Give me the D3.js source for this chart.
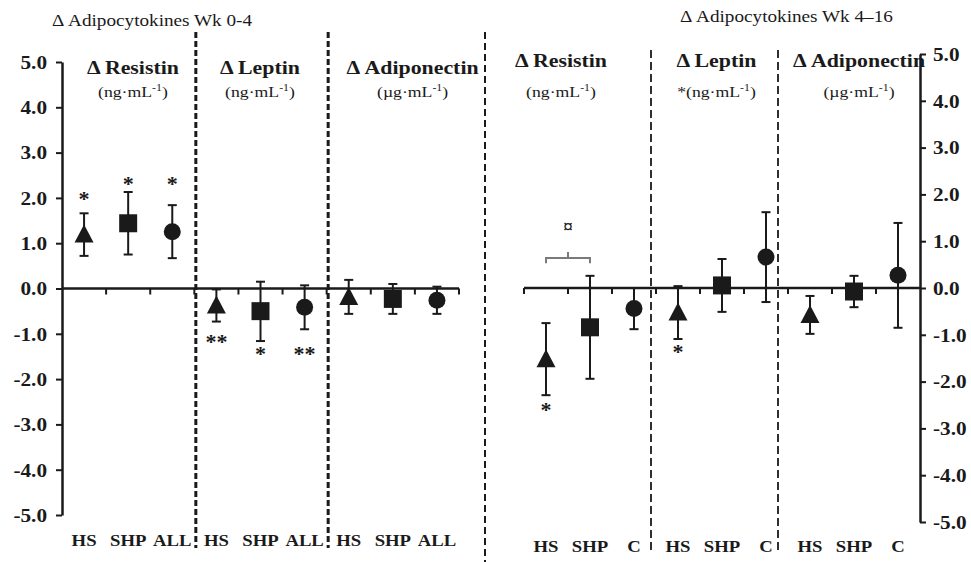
<!DOCTYPE html>
<html>
<head>
<meta charset="utf-8">
<script src="https://cdn.jsdelivr.net/npm/d3@7"></script>
<style>
  body { margin: 0; background: #fff; }
  svg { display: block; }
</style>
</head>
<body>
<svg id="chart" width="971" height="562"></svg>
<script>
// ---- data ----
const analytes = ["Resistin", "Leptin", "Adiponectin"];
const unitLabels = ["ng·mL", "ng·mL", "µg·mL"];
const unitNotesLate = ["", "*", ""];
const groupsEarly = ["HS", "SHP", "ALL"];
const groupsLate = ["HS", "SHP", "C"];
const yTicks = [5, 4, 3, 2, 1, 0, -1, -2, -3, -4, -5];

// Week 0-4 change: mean, lower and upper error limits per analyte x group
const meanEarly = [[1.19, 1.44, 1.255], [-0.375, -0.5, -0.415], [-0.185, -0.23, -0.26]];
const lowEarly  = [[0.72, 0.75, 0.67], [-0.73, -1.16, -0.9], [-0.56, -0.56, -0.56]];
const highEarly = [[1.66, 2.13, 1.84], [-0.02, 0.15, 0.07], [0.19, 0.1, 0.04]];

// Week 4-16 change
const meanLate = [[-1.52, -0.84, -0.44], [-0.525, 0.055, 0.66], [-0.575, -0.075, 0.27]];
const lowLate  = [[-2.29, -1.94, -0.88], [-1.09, -0.51, -0.3], [-0.98, -0.41, -0.85]];
const highLate = [[-0.75, 0.26, 0.0], [0.04, 0.62, 1.62], [-0.17, 0.26, 1.39]];

// significance markers: analyte index, group index, symbol, vertical position (data units)
const starsEarly = [
  [0, 0, "*", 2.03], [0, 1, "*", 2.34], [0, 2, "*", 2.34],
  [1, 0, "**", -1.13], [1, 1, "*", -1.41], [1, 2, "**", -1.41]
];
const starsLate = [[0, 0, "*", -2.56], [1, 0, "*", -1.32]];
// bracket between HS and SHP resistin (wk 4-16): level, end drop, centre rise, symbol level
const bracketLate = { analyte: 0, from: 0, to: 1, level: 0.64, end: 0.53, peak: 0.77, mark: "¤", markAt: 1.3 };

// ---- layout ----
const svg = d3.select("#chart");
const INK = "#1a1a1a";
const FONT = '"Liberation Serif", "Times New Roman", Times, serif';
const SX = 1.18; // horizontal text stretch
const headerShiftL = [4, -2, 6];
const headerShiftR = [-7, 2, 10];

function label(sel, x, y, str, o = {}) {
  const t = sel.append("text")
    .attr("transform", `translate(${x},${y}) scale(${o.sx ?? SX},1)`)
    .attr("text-anchor", o.anchor ?? "middle")
    .style("font-family", FONT)
    .style("font-size", (o.size ?? 18) + "px")
    .style("font-weight", o.weight ?? "bold")
    .style("fill", INK);
  if (str !== null) t.text(str);
  return t;
}

function unitLabel(sel, x, y, prefix, unit) {
  const t = label(sel, x, y, null, { size: 15, weight: "normal" });
  t.append("tspan").text(prefix + "(" + unit);
  t.append("tspan").attr("dy", -6).style("font-size", "10px").text("-1");
  t.append("tspan").attr("dy", 6).text(")");
}

const keys = analytes.flatMap(a => [0, 1, 2].map(g => a + "|" + g));

const xL = d3.scaleBand().domain(keys).range([62, 459]).paddingInner(0).paddingOuter(0);
const yL = d3.scaleLinear().domain([-5, 5]).range([515, 62]);
const xR = d3.scaleBand().domain(keys).range([524, 920]).paddingInner(0).paddingOuter(0);
const yR = d3.scaleLinear().domain([-5, 5]).range([522, 54]);

function markerPath(g) {
  if (g === 0) return "M0,-10L9.5,8L-9.5,8Z";
  if (g === 1) return "M-9,-9H9V9H-9Z";
  return d3.arc()({ innerRadius: 0, outerRadius: 8.5, startAngle: 0, endAngle: 2 * Math.PI });
}

function drawPanel(x, y, means, lows, highs, groups, opts) {
  const g = svg.append("g");
  const bw = x.bandwidth();
  const cx = (a, i) => x(analytes[a] + "|" + i) + bw / 2;

  // zero line with ticks at category boundaries
  const [x0, x1] = x.range();
  g.append("line").attr("x1", x0).attr("x2", x1).attr("y1", y(0)).attr("y2", y(0))
    .attr("stroke", INK).attr("stroke-width", 2.5);
  const bounds = keys.map(k => x(k)).concat([x1]).filter((d, i) => opts.tickAt(i));
  g.selectAll(".xt").data(bounds).join("line")
    .attr("x1", d => d).attr("x2", d => d)
    .attr("y1", y(0)).attr("y2", y(0) + 6)
    .attr("stroke", INK).attr("stroke-width", 2);

  // error bars and markers
  analytes.forEach((an, a) => {
    groups.forEach((gr, i) => {
      const px = cx(a, i);
      g.append("line").attr("x1", px).attr("x2", px)
        .attr("y1", y(lows[a][i])).attr("y2", y(highs[a][i]))
        .attr("stroke", INK).attr("stroke-width", 2);
      [lows[a][i], highs[a][i]].forEach(v => {
        g.append("line").attr("x1", px - 4.5).attr("x2", px + 4.5)
          .attr("y1", y(v)).attr("y2", y(v))
          .attr("stroke", INK).attr("stroke-width", 2);
      });
      g.append("path").attr("d", markerPath(i))
        .attr("transform", `translate(${px},${y(means[a][i])})`)
        .attr("fill", INK);
      // category label
      label(g, px, opts.catY, gr, { size: 17, sx: 1.1 });
    });
  });

  opts.stars.forEach(([a, i, s, v]) => {
    label(g, cx(a, i), y(v) + 9, s, { size: 21, sx: 1.05 });
  });
  return cx;
}

// y axes
const axL = svg.append("g").attr("transform", "translate(62,0)")
  .call(d3.axisLeft(yL).tickValues(yTicks).tickSize(6).tickSizeOuter(0).tickFormat(d => d.toFixed(1)));
const axR = svg.append("g").attr("transform", "translate(920,0)")
  .call(d3.axisRight(yR).tickValues(yTicks).tickSize(6).tickSizeOuter(0).tickFormat(d => d.toFixed(1)));
[axL, axR].forEach((ax, k) => {
  ax.attr("font-family", null).attr("font-size", null);
  ax.select(".domain").attr("stroke", INK).attr("stroke-width", 2.5);
  ax.selectAll(".tick line").attr("stroke", INK).attr("stroke-width", 2);
  ax.selectAll(".tick text")
    .style("font-family", FONT)
    .style("font-size", "18px").style("font-weight", "bold")
    .style("fill", INK)
    .attr("x", k === 0 ? -15 / SX : 13 / SX)
    .attr("dy", "0.35em")
    .attr("transform", `scale(${SX},1)`);
});

// panels
drawPanel(xL, yL, meanEarly, lowEarly, highEarly, groupsEarly, {
  tickAt: i => i > 0, catY: 546, stars: starsEarly
});
const cxR = drawPanel(xR, yR, meanLate, lowLate, highLate, groupsLate, {
  tickAt: i => i < 9, catY: 552, stars: starsLate
});

// bracket (wk 4-16)
{
  const b = bracketLate;
  const xa = cxR(b.analyte, b.from), xb = cxR(b.analyte, b.to), xm = (xa + xb) / 2;
  svg.append("path")
    .attr("d", `M${xa},${yR(b.end)}V${yR(b.level)}H${xb}V${yR(b.end)}M${xm},${yR(b.level)}V${yR(b.peak)}`)
    .attr("fill", "none").attr("stroke", "#7a7a7a").attr("stroke-width", 2);
  label(svg, xm, yR(b.markAt) + 6, b.mark, { size: 19, weight: "bold", sx: 1 });
}

// dividers
const divL = [xL(keys[3]) + 1.5, xL(keys[6]) + 1.5];
divL.forEach(x => svg.append("line").attr("x1", x).attr("x2", x).attr("y1", 32).attr("y2", 548)
  .attr("stroke", INK).attr("stroke-width", 3).attr("stroke-dasharray", "6,3"));
svg.append("line").attr("x1", 485).attr("x2", 485).attr("y1", 32).attr("y2", 562)
  .attr("stroke", INK).attr("stroke-width", 2).attr("stroke-dasharray", "7,4");
const divR = [xR(keys[3]) - 5, xR(keys[6]) - 10];
divR.forEach(x => svg.append("line").attr("x1", x).attr("x2", x).attr("y1", 50).attr("y2", 551)
  .attr("stroke", INK).attr("stroke-width", 1.8).attr("stroke-dasharray", "8,4"));

// panel headers, centred between dividers
const edgesL = [62, divL[0], divL[1], 485];
const edgesR = [485, divR[0], divR[1], 920];
analytes.forEach((an, a) => {
  const mL = (edgesL[a] + edgesL[a + 1]) / 2 + headerShiftL[a];
  label(svg, mL, 74, "Δ " + an, { size: 19, sx: 1.15 });
  unitLabel(svg, mL, 97, "", unitLabels[a]);
  const mR = (edgesR[a] + edgesR[a + 1]) / 2 + headerShiftR[a];
  label(svg, mR, 67, "Δ " + an, { size: 19, sx: 1.15 });
  unitLabel(svg, mR, 97, unitNotesLate[a], unitLabels[a]);
});

// titles
label(svg, 52, 26, "Δ Adipocytokines  Wk 0-4", { size: 16, weight: "normal", anchor: "start", sx: 1.2 });
label(svg, 680, 22, "Δ Adipocytokines  Wk 4–16", { size: 16, weight: "normal", anchor: "start", sx: 1.2 });
</script>
</body>
</html>
